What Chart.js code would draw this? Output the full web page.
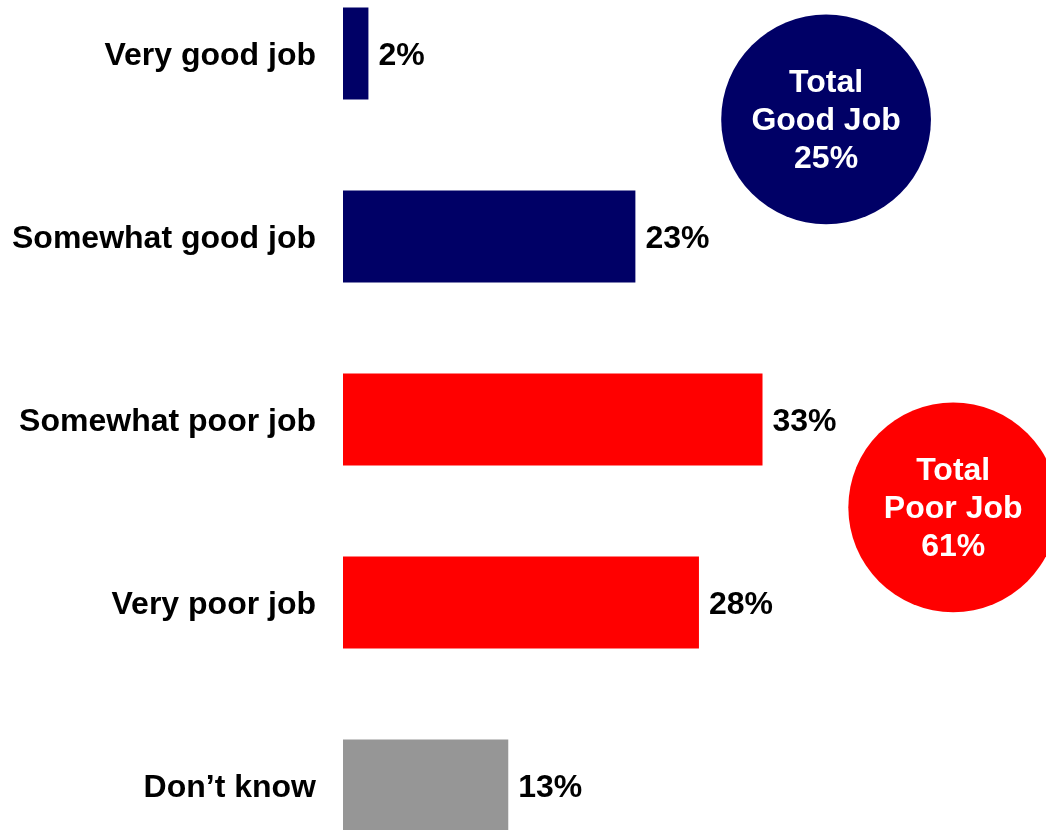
<!DOCTYPE html>
<html>
<head>
<meta charset="utf-8">
<script src="https://cdn.jsdelivr.net/npm/chart.js@4/dist/chart.umd.min.js"></script>
<style>
  html, body { margin: 0; padding: 0; background: #fff; }
  #wrap { position: relative; width: 1046px; height: 830px; overflow: hidden; }
  #box { position: absolute; left: 0; top: -38px; width: 1046px; height: 915px; }
</style>
</head>
<body>
<div id="wrap"><div id="box"><canvas id="chart"></canvas></div></div>
<script>
const categories = ['Very good job', 'Somewhat good job', 'Somewhat poor job', 'Very poor job', 'Don\u2019t know'];
const values = [2, 23, 33, 28, 13];
const barColors = ['#000066', '#000066', '#FF0000', '#FF0000', '#969696'];

// summary bubbles: position in data units (x = percent, y = category index)
const totalLabels = [['Total', 'Good Job', '25%'], ['Total', 'Poor Job', '61%']];
const totalColors = ['#000066', '#FF0000'];
const totalX = [38, 48];
const totalY = [0.36, 2.48];
const totalRadius = 8.25;

const FONT = '"Liberation Sans", Arial, sans-serif';

const valueLabels = {
  id: 'valueLabels',
  afterDatasetsDraw(chart) {
    const ctx = chart.ctx;
    const meta = chart.getDatasetMeta(0);
    ctx.save();
    ctx.font = `bold 32px ${FONT}`;
    ctx.fillStyle = '#000';
    ctx.textAlign = 'left';
    ctx.textBaseline = 'middle';
    meta.data.forEach((bar, i) => {
      ctx.fillText(values[i] + '%', bar.x + 10, bar.y + 3);
    });
    ctx.restore();
  }
};

const totalBubbles = {
  id: 'totalBubbles',
  afterDatasetsDraw(chart) {
    const ctx = chart.ctx;
    const xs = chart.scales.x;
    const ys = chart.scales.y;
    const r = xs.getPixelForValue(totalRadius) - xs.getPixelForValue(0);
    ctx.save();
    totalLabels.forEach((lines, i) => {
      const cx = xs.getPixelForValue(totalX[i]);
      const cy = ys.getPixelForValue(totalY[i]);
      ctx.beginPath();
      ctx.arc(cx, cy, r, 0, Math.PI * 2);
      ctx.fillStyle = totalColors[i];
      ctx.fill();
      ctx.font = `bold 32px ${FONT}`;
      ctx.fillStyle = '#fff';
      ctx.textAlign = 'center';
      ctx.textBaseline = 'middle';
      const lh = 38;
      lines.forEach((t, j) => {
        ctx.fillText(t, cx, cy + 2 + (j - (lines.length - 1) / 2) * lh);
      });
    });
    ctx.restore();
  }
};

new Chart(document.getElementById('chart'), {
  type: 'bar',
  data: {
    labels: categories,
    datasets: [{
      data: values,
      backgroundColor: barColors,
      borderWidth: 0,
      categoryPercentage: 1,
      barPercentage: 0.503
    }]
  },
  options: {
    indexAxis: 'y',
    responsive: true,
    maintainAspectRatio: false,
    animation: false,
    layout: { padding: 0 },
    plugins: {
      legend: { display: false },
      tooltip: { enabled: false }
    },
    scales: {
      x: {
        display: false,
        min: 0,
        max: 55.3
      },
      y: {
        grid: { display: false, drawTicks: false },
        border: { display: false },
        afterFit: scale => {
          scale.width = 343;
          scale.paddingTop = 0;
          scale.paddingBottom = 0;
        },
        ticks: {
          padding: 27,
          labelOffset: 3,
          color: '#000',
          font: { family: FONT, size: 32, weight: 'bold' }
        }
      }
    }
  },
  plugins: [valueLabels, totalBubbles]
});
</script>
</body>
</html>
